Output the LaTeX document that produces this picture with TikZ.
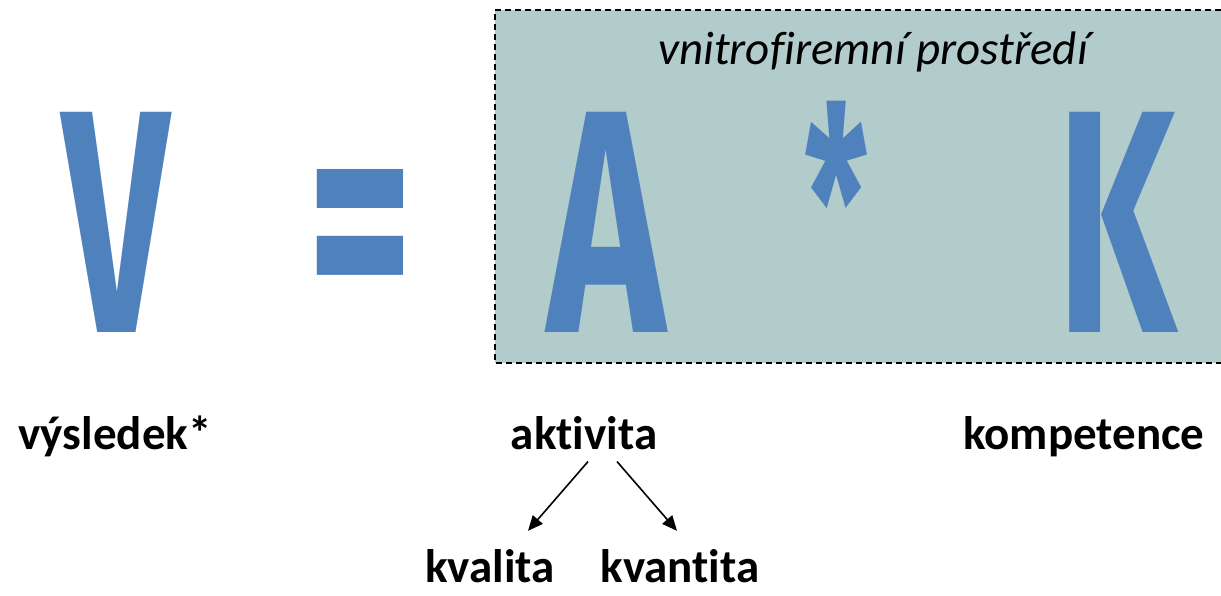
\documentclass[tikz,border=0pt]{standalone}
\usepackage{fontspec}
\setmainfont{Carlito}[Ligatures={NoCommon,NoRare,NoContextual}]
\newfontfamily\bigfont{Fira Sans}
\usetikzlibrary{arrows.meta,calc}
\definecolor{letterblue}{HTML}{4F81BD}
\definecolor{boxfill}{HTML}{B2CBCB}
\begin{document}
\begin{tikzpicture}[x=1pt,y=-1pt,
  big/.style={inner sep=0pt, text=letterblue, font=\bigfont\bfseries},
  lbl/.style={font=\bfseries\fontsize{47}{50}\selectfont, inner sep=0pt, anchor=base},
  arr/.style={line width=1.6pt, -{Triangle[length=15pt,width=13pt]}}]
\useasboundingbox (0,0) rectangle (1221,595);
\fill[boxfill] (495,10) rectangle (1221,363);
\draw[line width=1.3pt, dash pattern=on 6pt off 4pt] (1221,10) -- (495,10) -- (495,363) -- (1221,363);
\node[font=\itshape\fontsize{47}{50}\selectfont, inner sep=0pt] (title) at (873,52) {vnitrofiremní prostředí};
\node[big, anchor=south west] (V) at (62,333) {\resizebox{107pt}{220pt}{V}};
\node[big, anchor=center] (eq) at (361,249) {\resizebox{106pt}{159pt}{=}};
\node[big, anchor=south west] (A) at (547,333) {\resizebox{118pt}{220pt}{A}};
\node[big, anchor=north] (ast) at (837,101) {\resizebox{64pt}{193pt}{*}};
\node[big, anchor=south west] (K) at (1057,333) {\resizebox{119pt}{220pt}{K}};
\node[lbl] (vys) at (115,449) {výsledek*};
\node[lbl] (akt) at (584,449) {aktivita};
\node[lbl] (komp) at (1084,449) {kompetence};
\node[lbl] (kval) at (490,582) {kvalita};
\node[lbl] (kvan) at (680,582) {kvantita};
\draw[arr] ($(akt.south)+(4,12)$) -- ($(kval.north)+(38,-18)$);
\draw[arr] ($(akt.south)+(33,12)$) -- ($(kvan.north)+(-3,-18)$);
\end{tikzpicture}
\end{document}
